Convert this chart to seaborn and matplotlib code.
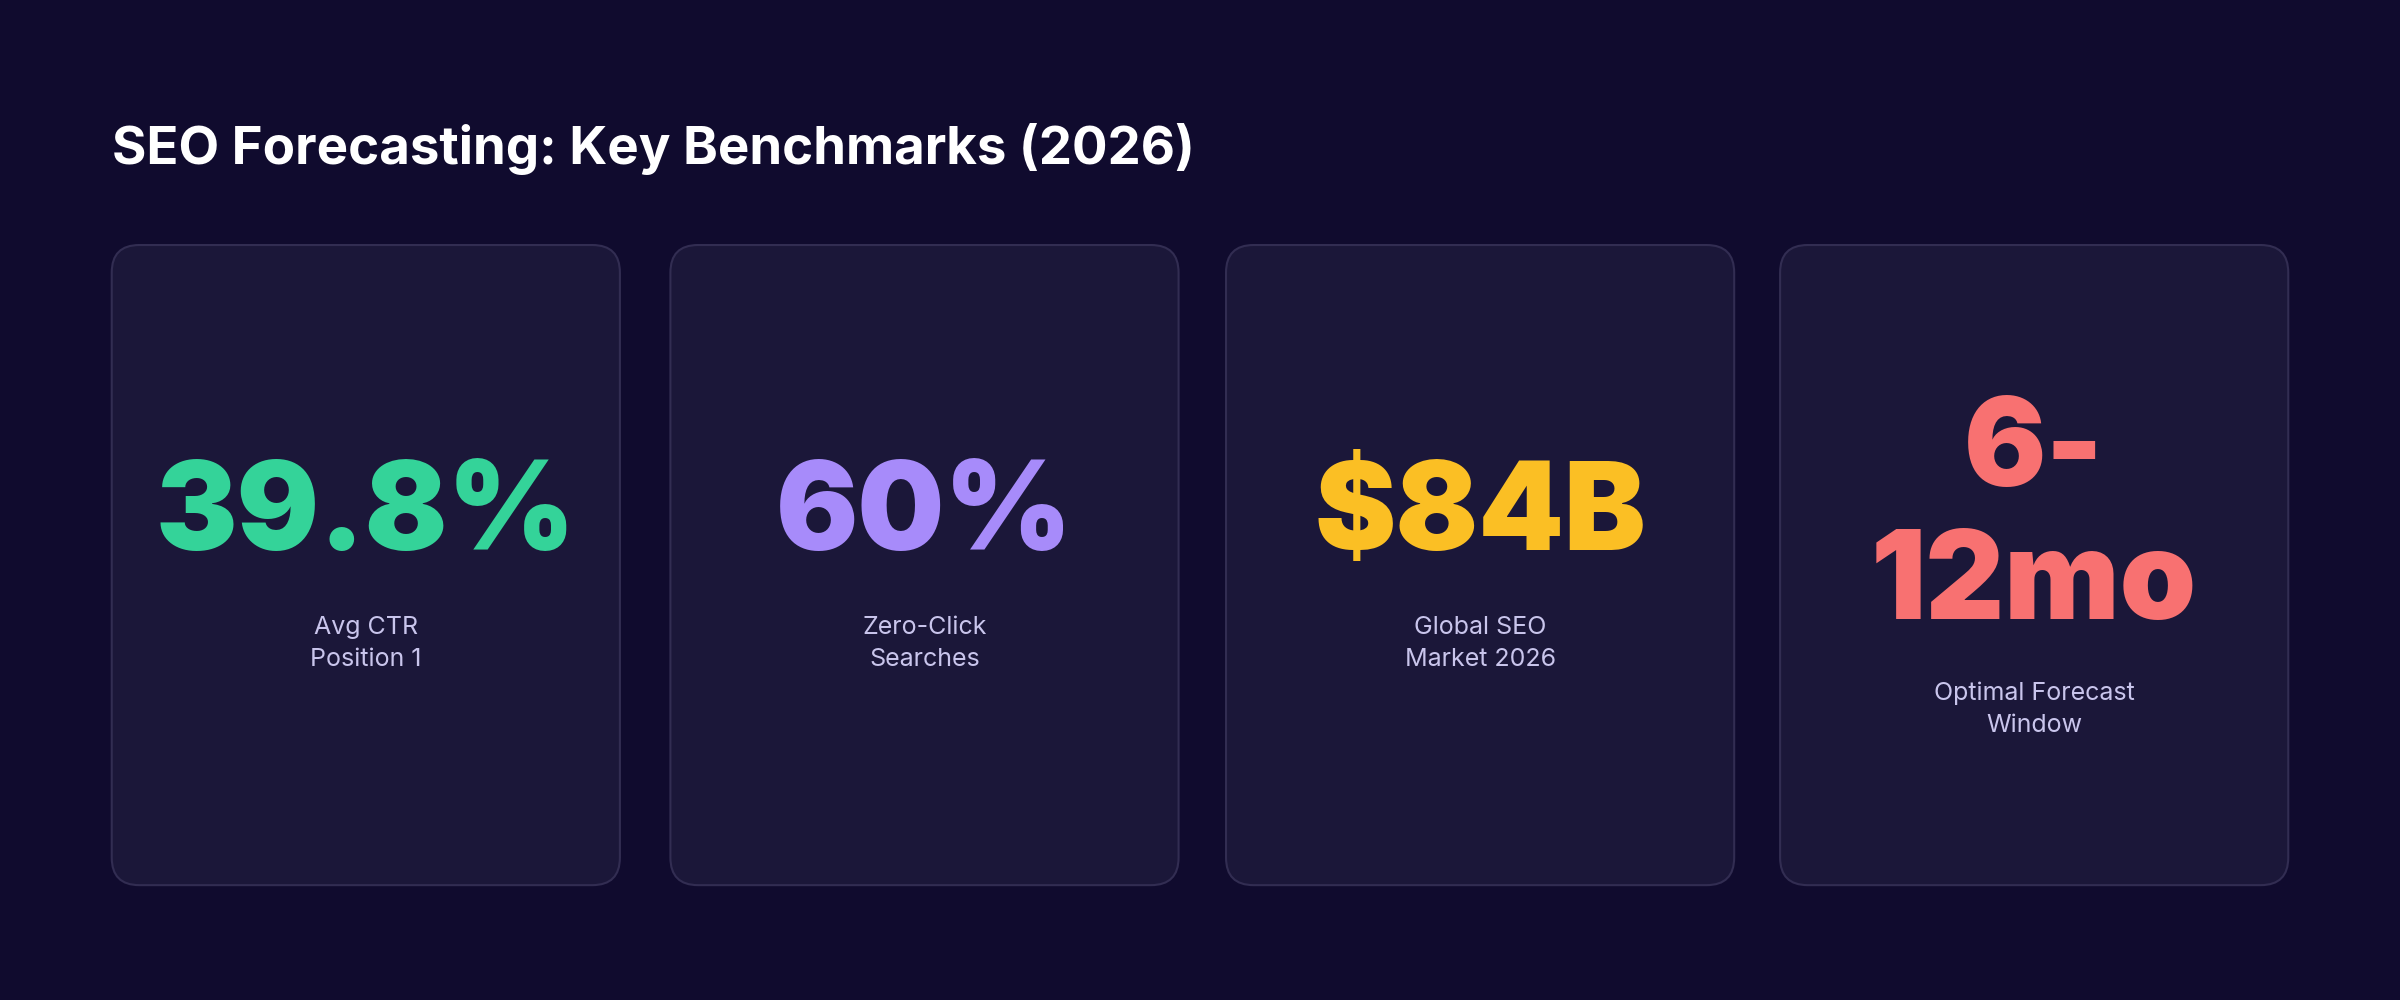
import matplotlib
matplotlib.use("Agg")
import matplotlib.pyplot as plt
import seaborn as sns
from matplotlib.patches import FancyBboxPatch

title = "SEO Forecasting: Key Benchmarks (2026)"
values = ["39.8%", "60%", "$84B", "6-\n12mo"]
labels = ["Avg CTR\nPosition 1", "Zero-Click\nSearches", "Global SEO\nMarket 2026", "Optimal Forecast\nWindow"]
colors = ["#34d399", "#a78bfa", "#fbbf24", "#f87171"]

sns.set_theme(style="white")
plt.rcParams['font.family'] = ['Inter', 'DejaVu Sans']
BG = "#100b2e"
fig = plt.figure(figsize=(24, 10), dpi=100, facecolor=BG)
ax = fig.add_axes([0, 0, 1, 1])
ax.set_facecolor(BG)
ax.set_xlim(0, 1568); ax.set_ylim(653, 0); ax.axis("off")

ax.text(73, 97, title, color="white", fontsize=38, fontweight="bold", va="center", ha="left")

lefts = [73, 438, 801, 1163]
width = 332
for i, (v, l, c) in enumerate(zip(values, labels, colors)):
    x0 = lefts[i]
    ax.add_patch(FancyBboxPatch((x0, 160), width, 418, boxstyle="round,pad=0,rounding_size=18",
                                facecolor="#1b1739", edgecolor="#322d52", linewidth=1.5))
    cx = x0 + width / 2
    if "\n" in v:
        a, b = v.split("\n")
        ax.text(cx, 296, a, color=c, fontsize=88, fontweight="black", ha="center", va="center")
        ax.text(cx, 383, b, color=c, fontsize=88, fontweight="black", ha="center", va="center")
        ly = 463
    else:
        ax.text(cx, 338, v, color=c, fontsize=88, fontweight="black", ha="center", va="center")
        ly = 420
    ax.text(cx, ly, l, color="#c9c5ec", fontsize=18, ha="center", va="center", linespacing=1.5)

fig.savefig("out.png", dpi=100, facecolor=BG)
